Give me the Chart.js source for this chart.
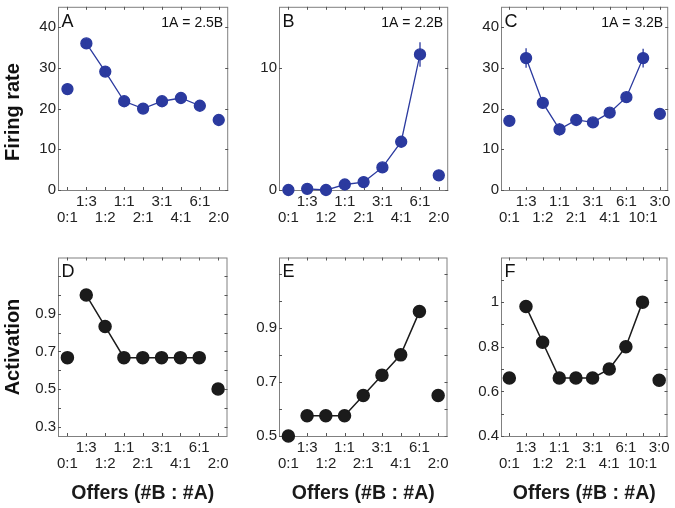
<!DOCTYPE html>
<html><head><meta charset="utf-8">
<script src="https://cdn.jsdelivr.net/npm/chart.js@4"></script>
<style>
html,body{margin:0;padding:0;background:#fff;}
#wrap{position:relative;width:675px;height:508px;overflow:hidden;background:#fff;}
canvas{position:absolute;}
</style></head><body>
<div id="wrap">
<canvas id="cA" width="235" height="250" style="left:0;top:0"></canvas>
<canvas id="cB" width="220" height="250" style="left:235px;top:0"></canvas>
<canvas id="cC" width="220" height="250" style="left:455px;top:0"></canvas>
<canvas id="cD" width="235" height="258" style="left:0;top:250px"></canvas>
<canvas id="cE" width="220" height="258" style="left:235px;top:250px"></canvas>
<canvas id="cF" width="220" height="258" style="left:455px;top:250px"></canvas>
</div>
<script>
// ---- categories (offers #B : #A) ----
const offersAB = ['0:1','1:3','1:2','1:1','2:1','3:1','4:1','6:1','2:0'];
const offersC  = ['0:1','1:3','1:2','1:1','2:1','3:1','4:1','6:1','10:1','3:0'];

// ---- firing rates (sp/s) and error bars ----
const rateA = [24.8, 36.0, 29.1, 21.8, 20.0, 21.8, 22.6, 20.7, 17.2];
const errA  = [0.8, 1.0, 0.9, 0.7, 0.7, 0.8, 0.8, 0.9, 0.7];
const rateB = [0.0, 0.1, 0.0, 0.45, 0.65, 1.85, 3.95, 11.1, 1.2];
const errB  = [0.0, 0.05, 0.0, 0.1, 0.1, 0.2, 0.3, 1.0, 0.15];
const rateC = [17.0, 32.4, 21.4, 14.9, 17.2, 16.6, 19.0, 22.8, 32.4, 18.7];
const errC  = [0.8, 2.4, 1.1, 1.5, 0.9, 0.8, 0.9, 1.2, 2.3, 0.9];

// ---- model activations ----
const actD = [0.667, 1.0, 0.833, 0.667, 0.667, 0.667, 0.667, 0.667, 0.5];
const actE = [0.5, 0.575, 0.575, 0.575, 0.65, 0.725, 0.8, 0.96, 0.65];
const actF = [0.66, 0.98, 0.82, 0.66, 0.66, 0.66, 0.70, 0.80, 1.0, 0.65];

// ---- y ticks and tick labels ----
const ticksRate  = [0, 10, 20, 30, 40];
const labelsRate = ['0', '10', '20', '30', '40'];
const ticksB  = [0, 10];
const labelsB = ['0', '10'];
const ticksD  = [0.3, 0.4, 0.5, 0.6, 0.7, 0.8, 0.9, 1.0, 1.1];
const labelsD = ['0.3', '', '0.5', '', '0.7', '', '0.9', '', ''];
const ticksE  = [0.5, 0.6, 0.7, 0.8, 0.9, 1.0, 1.1];
const labelsE = ['0.5', '', '0.7', '', '0.9', '', ''];
const ticksF  = [0.4, 0.5, 0.6, 0.7, 0.8, 0.9, 1.0, 1.1];
const labelsF = ['0.4', '', '0.6', '', '0.8', '', '1', ''];

const BLUE = '#2B3A9F';
const BLACK = '#1b1b1b';
const FONT = "'Liberation Sans', Arial, sans-serif";

const framePlugin = {
  id: 'frame',
  beforeDatasetsDraw(chart) {
    const {ctx, chartArea: a, scales: {x, y}} = chart;
    ctx.save();
    ctx.strokeStyle = '#808080';
    ctx.lineWidth = 1;
    ctx.strokeRect(a.left + 0.5, a.top + 0.5, a.right - a.left - 1, a.bottom - a.top);
    ctx.strokeStyle = '#555';
    ctx.beginPath();
    x.ticks.forEach((t, i) => {
      const px = Math.round(x.getPixelForTick(i)) + 0.5;
      ctx.moveTo(px, a.top); ctx.lineTo(px, a.top + 3);
      ctx.moveTo(px, a.bottom); ctx.lineTo(px, a.bottom - 3);
    });
    y.ticks.forEach(t => {
      const py = Math.round(y.getPixelForValue(t.value)) + 0.5;
      ctx.moveTo(a.left, py); ctx.lineTo(a.left + 3, py);
      ctx.moveTo(a.right, py); ctx.lineTo(a.right - 3, py);
    });
    ctx.stroke();
    ctx.restore();
  },
  afterDatasetsDraw(chart, args, opts) {
    const errs = opts.errors;
    if (!errs) return;
    const {ctx, scales: {x, y}} = chart;
    const vals = chart.data.datasets[0].data;
    ctx.save();
    ctx.strokeStyle = opts.color;
    ctx.lineWidth = 1.3;
    ctx.beginPath();
    vals.forEach((v, i) => {
      const e = errs[i];
      if (!e) return;
      const px = x.getPixelForValue(i);
      ctx.moveTo(px, y.getPixelForValue(v + e));
      ctx.lineTo(px, y.getPixelForValue(v - e));
    });
    ctx.stroke();
    ctx.restore();
  },
  afterDraw(chart, args, opts) {
    const {ctx, chartArea: a} = chart;
    ctx.save();
    ctx.fillStyle = '#111';
    ctx.textBaseline = 'middle';
    if (opts.letter) {
      ctx.font = '18px ' + FONT;
      ctx.textAlign = 'left';
      ctx.fillText(opts.letter, a.left + 3.5, a.top + 15);
    }
    if (opts.ratio) {
      ctx.font = '14px ' + FONT;
      ctx.textAlign = 'right';
      ctx.fillText(opts.ratio, a.right - 5, a.top + 16);
    }
    if (opts.ylabel) {
      ctx.font = 'bold 20px ' + FONT;
      ctx.textAlign = 'center';
      ctx.textBaseline = 'alphabetic';
      ctx.translate(opts.ylabelX, opts.ylabelY);
      ctx.rotate(-Math.PI / 2);
      ctx.fillText(opts.ylabel, 0, 0);
    }
    ctx.restore();
  }
};

function panel(id, cfg) {
  const n = cfg.values.length;
  const color = cfg.color;
  new Chart(document.getElementById(id), {
    type: 'line',
    data: {
      labels: cfg.cats,
      datasets: [{
        data: cfg.values,
        borderColor: color,
        backgroundColor: color,
        pointBackgroundColor: color,
        pointBorderColor: color,
        pointRadius: cfg.radius,
        pointHoverRadius: cfg.radius,
        borderWidth: cfg.lw,
        tension: 0,
        clip: false,
        segment: {
          borderColor: c => (c.p0DataIndex === 0 || c.p1DataIndex === n - 1) ? 'rgba(0,0,0,0)' : color
        }
      }]
    },
    options: {
      responsive: false,
      animation: false,
      events: [],
      layout: {padding: {left: 0, top: cfg.top, right: cfg.padRight, bottom: 0}},
      plugins: {
        legend: {display: false},
        tooltip: {enabled: false},
        frame: {errors: cfg.errors, color: color, letter: cfg.letter, ratio: cfg.ratio,
                ylabel: cfg.ylabel, ylabelX: 19, ylabelY: cfg.ylabelY}
      },
      scales: {
        x: {
          type: 'category',
          offset: true,
          grid: {display: false, drawTicks: false},
          border: {display: false},
          ticks: {
            autoSkip: false, maxRotation: 0, minRotation: 0, padding: 4,
            color: '#222',
            font: {family: FONT, size: 15, lineHeight: 1.05},
            callback: (v, i) => (i % 2 ? [cfg.cats[i], ''] : ['', cfg.cats[i]])
          },
          title: cfg.xlabel ? {
            display: true, text: cfg.xlabel, color: '#1a1a1a',
            font: {family: FONT, size: 19.5, weight: 'bold', lineHeight: 1},
            padding: {top: 0, bottom: 5}
          } : {display: false},
          afterFit: s => { s.height = cfg.xH; s.paddingLeft = 0; s.paddingRight = 0; }
        },
        y: {
          type: 'linear',
          min: cfg.yMin, max: cfg.yMax,
          grid: {display: false, drawTicks: false},
          border: {display: false},
          afterBuildTicks: s => { s.ticks = cfg.yTicks.map(v => ({value: v})); },
          ticks: {
            padding: 2, color: '#222',
            font: {family: FONT, size: 15},
            callback: (v, i) => cfg.yLabels[i]
          },
          afterFit: s => { s.width = cfg.yW; s.paddingTop = 0; s.paddingBottom = 0; }
        }
      }
    },
    plugins: [framePlugin]
  });
}

const XLABEL = 'Offers (#B : #A)';
// top row: plot area y 4..190 ; bottom row: 251..436 (page coords)
panel('cA', {cats: offersAB, values: rateA, errors: errA, color: BLUE, radius: 5.5, lw: 1.3,
  yMin: 0, yMax: 45, yTicks: ticksRate, yLabels: labelsRate,
  yW: 58, padRight: 6, top: 4, xH: 60, letter: 'A', ratio: '1A = 2.5B',
  ylabel: 'Firing rate', ylabelY: 112});
panel('cB', {cats: offersAB, values: rateB, errors: errB, color: BLUE, radius: 5.5, lw: 1.3,
  yMin: 0, yMax: 15, yTicks: ticksB, yLabels: labelsB,
  yW: 44, padRight: 5, top: 4, xH: 60, letter: 'B', ratio: '1A = 2.2B'});
panel('cC', {cats: offersC, values: rateC, errors: errC, color: BLUE, radius: 5.5, lw: 1.3,
  yMin: 0, yMax: 45, yTicks: ticksRate, yLabels: labelsRate,
  yW: 46, padRight: 4, top: 4, xH: 60, letter: 'C', ratio: '1A = 3.2B'});
panel('cD', {cats: offersAB, values: actD, errors: null, color: BLACK, radius: 6, lw: 1.5,
  yMin: 0.25, yMax: 1.2, yTicks: ticksD, yLabels: labelsD,
  yW: 58, padRight: 6, top: 1, xH: 72, letter: 'D', xlabel: XLABEL,
  ylabel: 'Activation', ylabelY: 97});
panel('cE', {cats: offersAB, values: actE, errors: null, color: BLACK, radius: 6, lw: 1.5,
  yMin: 0.5, yMax: 1.16, yTicks: ticksE, yLabels: labelsE,
  yW: 44, padRight: 5, top: 1, xH: 72, letter: 'E', xlabel: XLABEL});
panel('cF', {cats: offersC, values: actF, errors: null, color: BLACK, radius: 6, lw: 1.5,
  yMin: 0.4, yMax: 1.2, yTicks: ticksF, yLabels: labelsF,
  yW: 46, padRight: 4, top: 1, xH: 72, letter: 'F', xlabel: XLABEL});
</script>
</body></html>
